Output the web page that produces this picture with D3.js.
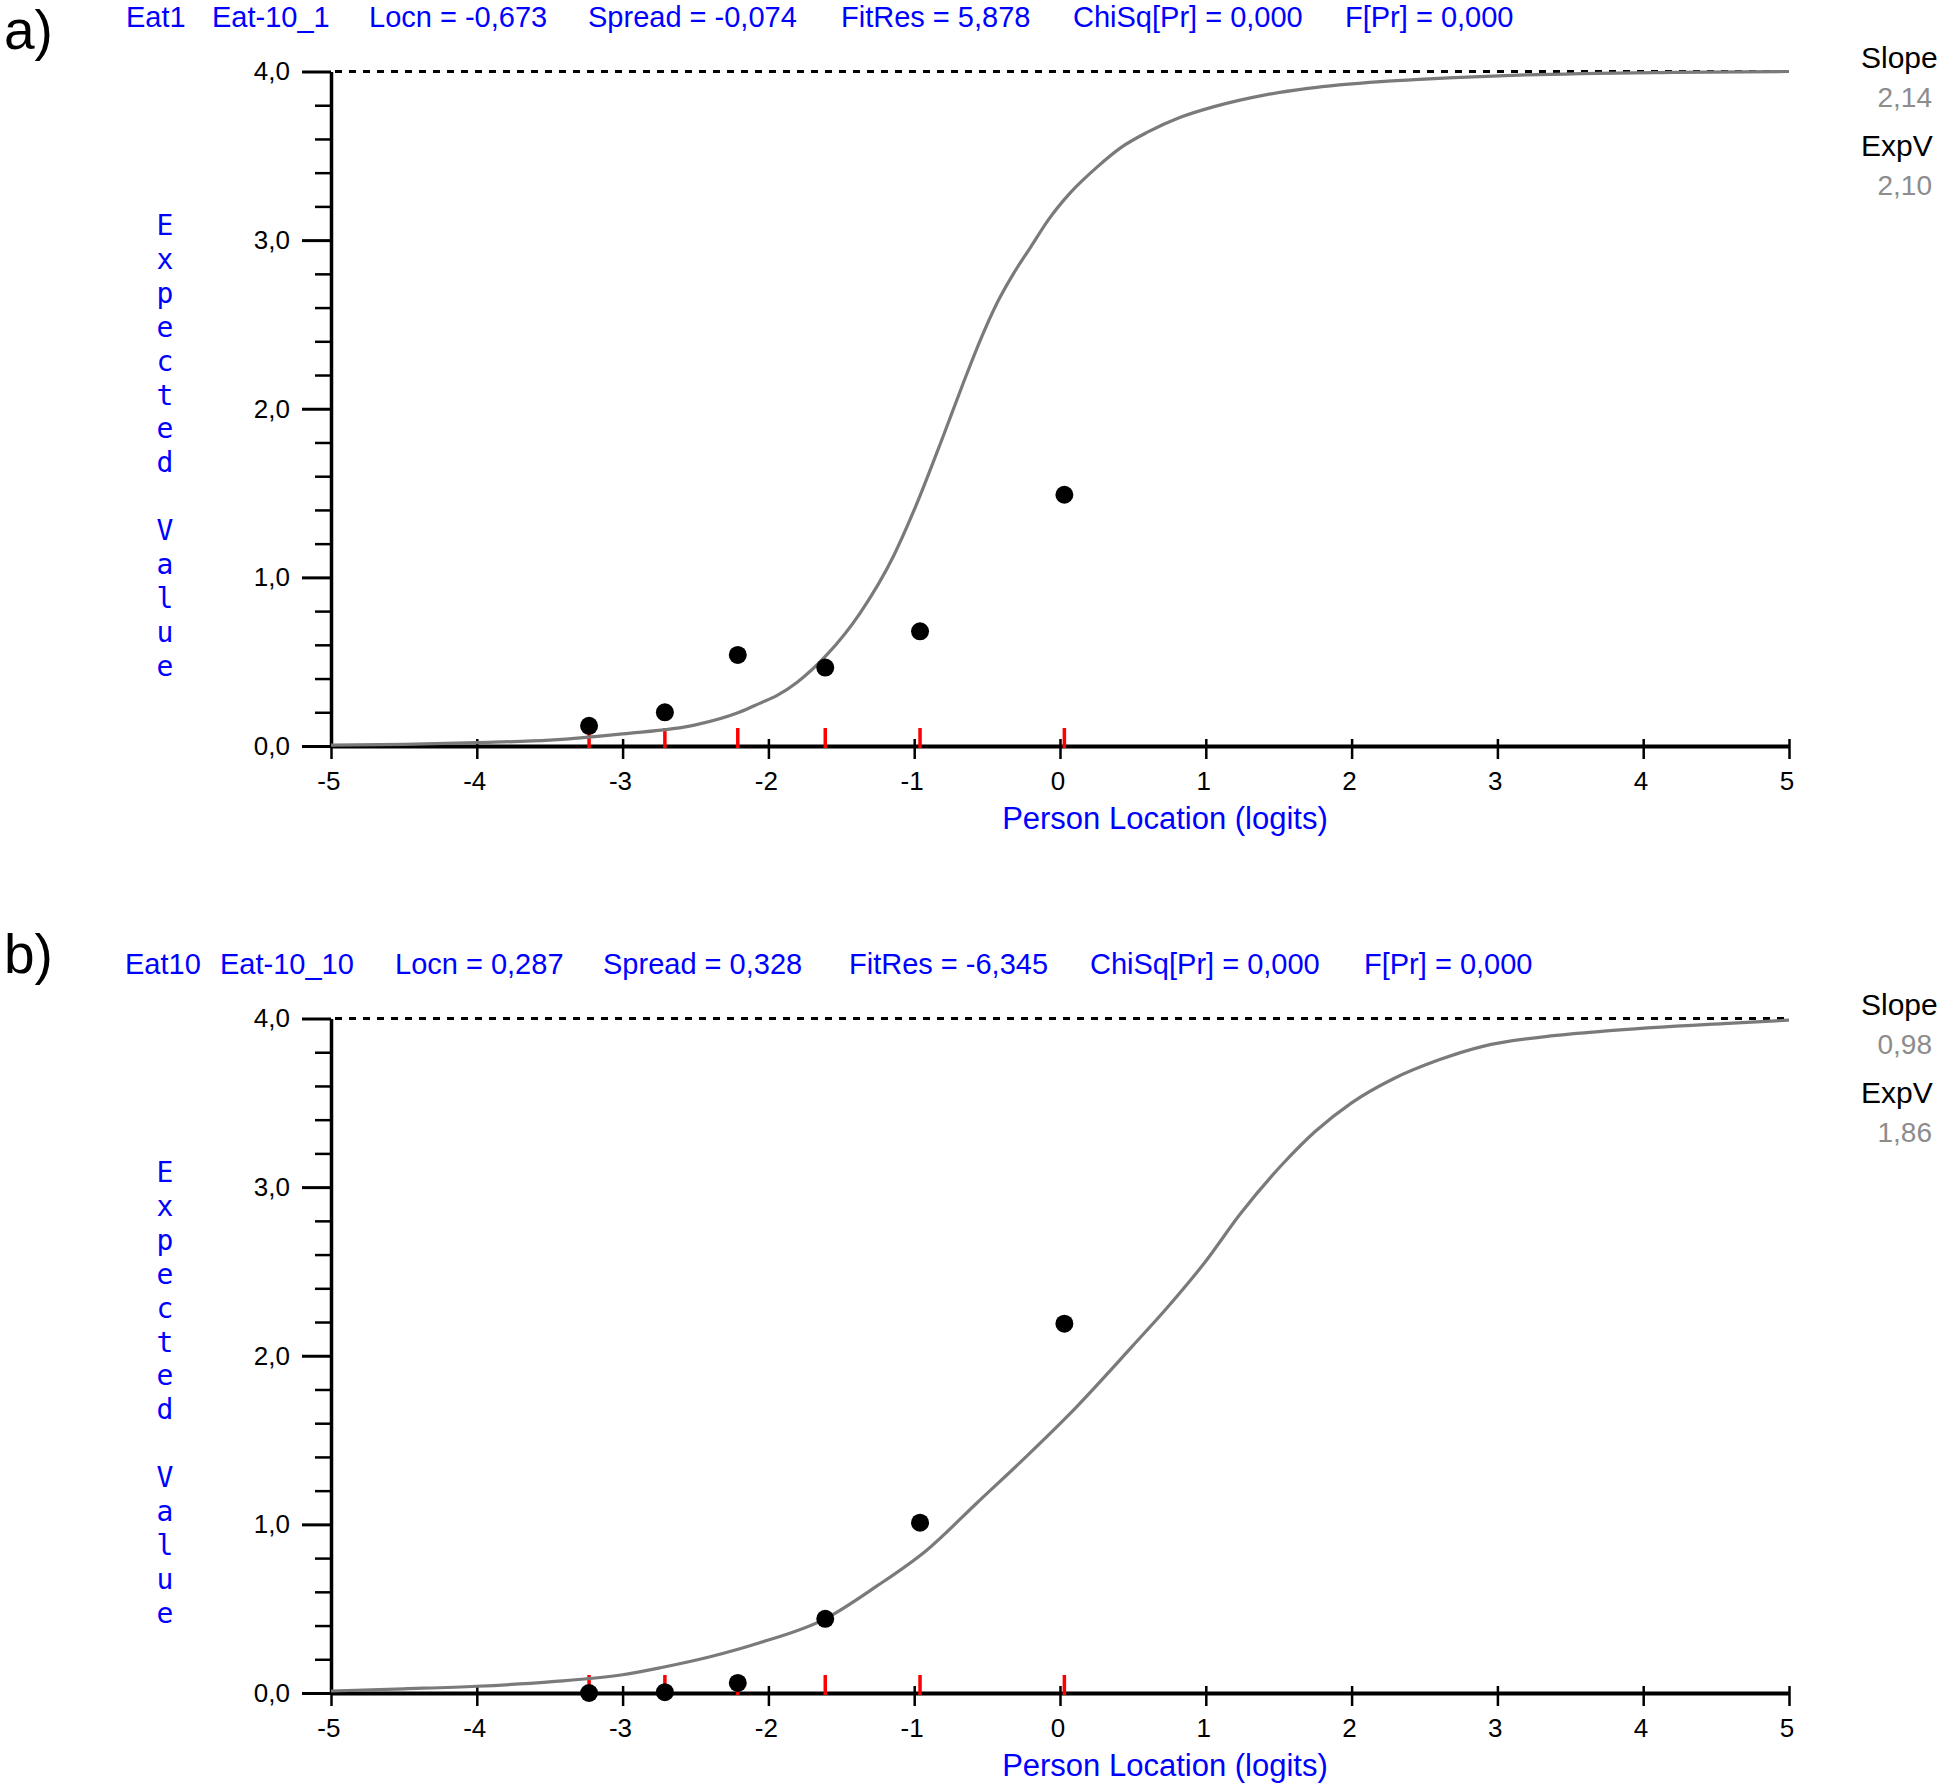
<!DOCTYPE html>
<html>
<head>
<meta charset="utf-8">
<script src="https://cdn.jsdelivr.net/npm/d3@7"></script>
<style>
  html, body { margin: 0; padding: 0; background: #ffffff; }
  svg { display: block; }
</style>
</head>
<body>
<svg id="chart" width="1946" height="1789"></svg>
<script>
// ---------------- DATA ----------------
const xTickValues = [-5, -4, -3, -2, -1, 0, 1, 2, 3, 4, 5];
const yTickValues = [0, 1, 2, 3, 4];
const yMinorTickValues = [0.2, 0.4, 0.6, 0.8, 1.2, 1.4, 1.6, 1.8, 2.2, 2.4, 2.6, 2.8, 3.2, 3.4, 3.6, 3.8];

// class-interval mean locations (red marks + observed dots)
const classLocations = [-3.23, -2.71, -2.21, -1.61, -0.96, 0.03];

// panel a) Eat1 — observed means
const observedA = [0.12, 0.20, 0.54, 0.465, 0.68, 1.49];
// panel a) expected value curve
const curveAx = [-5, -4.5, -4, -3.5, -3, -2.5, -2.2, -2.06, -1.94, -1.8, -1.6, -1.37, -1.14, -1.0, -0.8, -0.66, -0.55, -0.43, -0.32, -0.2, -0.08, 0.07, 0.25, 0.42, 0.6, 0.83, 1.05, 1.4, 1.7, 2.2, 2.5, 3.2, 4.2, 5];
const curveAy = [0.005, 0.01, 0.02, 0.035, 0.072, 0.125, 0.2, 0.253, 0.30, 0.38, 0.54, 0.79, 1.13, 1.40, 1.84, 2.16, 2.40, 2.63, 2.80, 2.96, 3.12, 3.28, 3.43, 3.55, 3.64, 3.73, 3.79, 3.86, 3.90, 3.94, 3.955, 3.98, 3.995, 4.0];

// panel b) Eat10 — observed means
const observedB = [0.0, 0.005, 0.06, 0.44, 1.01, 2.19];
// panel b) expected value curve
const curveBx = [-5, -4.5, -4, -3.5, -3.0, -2.74, -2.4, -2.06, -1.61, -1.26, -0.91, -0.57, -0.23, 0.05, 0.5, 0.73, 0.99, 1.24, 1.53, 1.75, 2.0, 2.28, 2.6, 2.9, 3.3, 3.73, 4.55, 5];
const curveBy = [0.012, 0.025, 0.04, 0.066, 0.108, 0.15, 0.215, 0.298, 0.44, 0.632, 0.85, 1.127, 1.403, 1.64, 2.06, 2.28, 2.55, 2.845, 3.14, 3.33, 3.50, 3.64, 3.755, 3.835, 3.89, 3.925, 3.97, 3.99];

const titleA = ["Eat1", "Eat-10_1", "Locn = -0,673", "Spread = -0,074", "FitRes = 5,878", "ChiSq[Pr] = 0,000", "F[Pr] = 0,000"];
const titleB = ["Eat10", "Eat-10_10", "Locn = 0,287", "Spread = 0,328", "FitRes = -6,345", "ChiSq[Pr] = 0,000", "F[Pr] = 0,000"];
const sideLabels = ["Slope", "ExpV"];
const sideValuesA = ["2,14", "2,10"];
const sideValuesB = ["0,98", "1,86"];
const panelLetters = ["a)", "b)"];
const yAxisTitle = "Expected Value";
const xAxisTitle = "Person Location (logits)";

// ---------------- DRAWING ----------------
const svg = d3.select("#chart");
svg.append("rect").attr("width", 1946).attr("height", 1789).attr("fill", "#fff");

const BLUE = "#0000ff";
const locale = d3.formatLocale({ decimal: ",", thousands: ".", grouping: [3], currency: ["", ""], minus: "-" });
const fmtY = locale.format(".1f");

const x = d3.scaleLinear().domain([-5, 5]).range([331, 1789]);

function drawPanel(offsetY, titleSegs, titleXs, observed, cx, cy, sideVals) {
  const g = svg.append("g").attr("transform", `translate(0,${offsetY})`);
  const y = d3.scaleLinear().domain([0, 4]).range([746, 71.5]);

  // title
  g.append("g").selectAll("text").data(titleSegs).join("text")
    .attr("x", (d, i) => titleXs[i]).attr("y", 27)
    .attr("font-family", "Liberation Sans, Arial, sans-serif")
    .attr("font-size", 29).attr("fill", BLUE).text(d => d);

  // dashed upper limit line
  g.append("line")
    .attr("x1", x(-5) + 4).attr("x2", x(5))
    .attr("y1", y(4)).attr("y2", y(4))
    .attr("stroke", "#000").attr("stroke-width", 3).attr("stroke-dasharray", "7,7");

  // minor y ticks
  const yMinor = g.append("g").attr("transform", `translate(${x(-5)},0)`)
    .call(d3.axisLeft(y).tickValues(yMinorTickValues).tickSize(16).tickFormat(""));
  yMinor.select(".domain").remove();
  yMinor.selectAll(".tick line").attr("stroke", "#000").attr("stroke-width", 2.5);

  // major y axis
  const yAx = g.append("g").attr("transform", `translate(${x(-5)},0)`)
    .call(d3.axisLeft(y).tickValues(yTickValues).tickSize(29).tickSizeOuter(0).tickPadding(12).tickFormat(fmtY));
  yAx.select(".domain").attr("stroke", "#000").attr("stroke-width", 3.5);
  yAx.selectAll(".tick line").attr("stroke", "#000").attr("stroke-width", 3);
  yAx.selectAll(".tick text").attr("font-family", "Liberation Sans, Arial, sans-serif")
    .attr("font-size", 26).attr("fill", "#000");

  // x axis
  const xAx = g.append("g").attr("transform", `translate(0,${y(0)})`)
    .call(d3.axisBottom(x).tickValues(xTickValues).tickSize(13).tickSizeOuter(0).tickPadding(13).tickFormat(d => String(d)));
  xAx.select(".domain").attr("stroke", "#000").attr("stroke-width", 4);
  xAx.selectAll(".tick line").attr("y1", -7).attr("stroke", "#000").attr("stroke-width", 2.5);
  xAx.selectAll(".tick text").attr("font-family", "Liberation Sans, Arial, sans-serif")
    .attr("font-size", 26).attr("fill", "#000").attr("dx", "-0.1em");

  // red class-interval marks
  g.append("g").selectAll("line").data(classLocations).join("line")
    .attr("x1", d => x(d)).attr("x2", d => x(d))
    .attr("y1", y(0) + 2).attr("y2", y(0) - 18)
    .attr("stroke", "#ff0000").attr("stroke-width", 3.5);

  // expected value curve
  const pts = cx.map((v, i) => [v, cy[i]]);
  g.append("path").datum(pts)
    .attr("fill", "none").attr("stroke", "#7a7a7a").attr("stroke-width", 3.2)
    .attr("d", d3.line().x(d => x(d[0])).y(d => y(d[1])).curve(d3.curveMonotoneX));

  // observed dots
  g.append("g").selectAll("circle").data(classLocations).join("circle")
    .attr("cx", d => x(d)).attr("cy", (d, i) => y(observed[i]))
    .attr("r", 9).attr("fill", "#000");

  // y axis title (stacked letters)
  const letters = yAxisTitle.split("");
  g.append("g").selectAll("text").data(letters).join("text")
    .attr("x", 165).attr("y", (d, i) => 235 + i * 33.9)
    .attr("text-anchor", "middle")
    .attr("font-family", "DejaVu Sans Mono, monospace")
    .attr("font-size", 28).attr("fill", BLUE).text(d => d);

  // x axis title
  g.append("text").attr("x", x(0.72)).attr("y", 829)
    .attr("text-anchor", "middle")
    .attr("font-family", "Liberation Sans, Arial, sans-serif")
    .attr("font-size", 31).attr("fill", BLUE).text(xAxisTitle);

  // side labels
  g.append("g").selectAll("text").data(sideLabels).join("text")
    .attr("x", 1861).attr("y", (d, i) => 68 + i * 88)
    .attr("font-family", "Liberation Sans, Arial, sans-serif")
    .attr("font-size", 30).attr("fill", "#000").text(d => d);
  g.append("g").selectAll("text").data(sideVals).join("text")
    .attr("x", 1932).attr("y", (d, i) => 107 + i * 88)
    .attr("text-anchor", "end")
    .attr("font-family", "Liberation Sans, Arial, sans-serif")
    .attr("font-size", 28).attr("fill", "#8c8c8c").text(d => d);
}

drawPanel(0, titleA, [126, 212, 369, 588, 841, 1073, 1345], observedA, curveAx, curveAy, sideValuesA);
drawPanel(947, titleB, [125, 220, 395, 603, 849, 1090, 1364], observedB, curveBx, curveBy, sideValuesB);

// panel letters
svg.append("g").selectAll("text").data(panelLetters).join("text")
  .attr("x", 4).attr("y", (d, i) => [49, 973][i])
  .attr("font-family", "Liberation Sans, Arial, sans-serif")
  .attr("font-size", 55).attr("fill", "#000").text(d => d);
</script>
</body>
</html>
